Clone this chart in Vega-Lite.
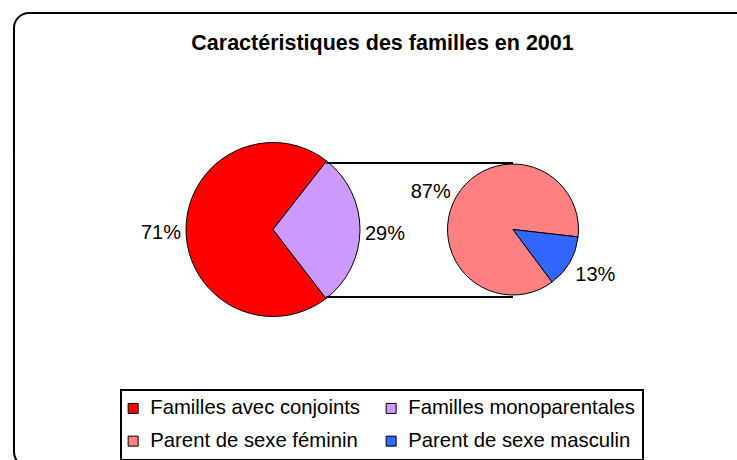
{
  "$schema": "https://vega.github.io/schema/vega-lite/v6.json",
  "usermeta": {"embedOptions": {"actions": false}},
  "width": 737,
  "height": 454,
  "autosize": {"type": "none"},
  "padding": {"left": 14, "top": 13, "right": -14, "bottom": -7},
  "background": "white",
  "title": {
    "text": "Caractéristiques des familles en 2001",
    "anchor": "middle",
    "offset": -41,
    "font": "Liberation Sans",
    "fontSize": 21.5,
    "fontWeight": "bold",
    "color": "black"
  },
  "datasets": {
    "parts": [
      {"camembert": "Ensemble des familles", "categorie": "Familles avec conjoints", "part": 0.71},
      {"camembert": "Ensemble des familles", "categorie": "Familles monoparentales", "part": 0.29},
      {"camembert": "Familles monoparentales", "categorie": "Parent de sexe féminin", "part": 0.87},
      {"camembert": "Familles monoparentales", "categorie": "Parent de sexe masculin", "part": 0.13}
    ],
    "liens": [
      {"de": "Ensemble des familles", "vers": "Familles monoparentales"}
    ]
  },
  "layer": [
    {
      "data": {"name": "parts"},
      "transform": [{"filter": "datum.camembert === 'Ensemble des familles'"}],
      "encoding": {
        "x": {"field": "camembert", "type": "nominal", "axis": null,
              "scale": {"type": "point", "domain": ["Ensemble des familles", "Familles monoparentales"], "range": [259, 499], "padding": 0}},
        "theta": {"field": "part", "type": "quantitative", "stack": true,
                  "scale": {"domain": [0, 1], "range": [0.664, 6.947]}},
        "order": {"field": "part", "sort": "ascending"}
      },
      "layer": [
        {
          "mark": {"type": "arc", "outerRadius": 87, "stroke": "black", "strokeWidth": 1, "yOffset": -10.5},
          "encoding": {
            "color": {"field": "categorie", "type": "nominal",
                      "scale": {"domain": ["Familles avec conjoints", "Familles monoparentales", "Parent de sexe féminin", "Parent de sexe masculin"],
                                "range": ["#FF0000", "#CC99FF", "#FF8080", "#3366FF"]},
                      "legend": {"title": null}}
          }
        },
        {
          "mark": {"type": "text", "radius": 112, "yOffset": -6.5, "font": "Liberation Sans", "fontSize": 20, "color": "black", "align": "center", "baseline": "middle"},
          "encoding": {
            "text": {"field": "part", "type": "quantitative", "format": ".0%"},
            "detail": {"field": "categorie", "type": "nominal"}
          }
        }
      ]
    },
    {
      "data": {"name": "parts"},
      "transform": [{"filter": "datum.camembert === 'Familles monoparentales'"}],
      "encoding": {
        "x": {"field": "camembert", "type": "nominal", "axis": null,
              "scale": {"type": "point", "domain": ["Ensemble des familles", "Familles monoparentales"], "range": [259, 499], "padding": 0}},
        "order": {"field": "part", "sort": "ascending"}
      },
      "layer": [
        {
          "mark": {"type": "arc", "outerRadius": 65.5, "stroke": "black", "strokeWidth": 1, "yOffset": -10.5},
          "encoding": {
            "theta": {"field": "part", "type": "quantitative", "stack": true,
                      "scale": {"domain": [0, 1], "range": [1.685, 7.968]}},
            "color": {"field": "categorie", "type": "nominal",
                      "scale": {"domain": ["Familles avec conjoints", "Familles monoparentales", "Parent de sexe féminin", "Parent de sexe masculin"],
                                "range": ["#FF0000", "#CC99FF", "#FF8080", "#3366FF"]},
                      "legend": {"title": null}}
          }
        },
        {
          "mark": {"type": "text", "radius": 92, "yOffset": -6.5, "font": "Liberation Sans", "fontSize": 20, "color": "black", "align": "center", "baseline": "middle"},
          "encoding": {
            "theta": {"field": "part", "type": "quantitative", "stack": true,
                      "scale": {"domain": [0, 1], "range": [1.625, 7.908]}},
            "text": {"field": "part", "type": "quantitative", "format": ".0%"},
            "detail": {"field": "categorie", "type": "nominal"}
          }
        }
      ],
      "resolve": {"scale": {"theta": "independent"}}
    },
    {
      "data": {"name": "liens"},
      "mark": {"type": "rule", "color": "black", "strokeWidth": 2, "xOffset": 53.3, "yOffset": -77},
      "encoding": {
        "x": {"field": "de", "type": "nominal", "axis": null,
              "scale": {"type": "point", "domain": ["Ensemble des familles", "Familles monoparentales"], "range": [259, 499], "padding": 0}},
        "x2": {"field": "vers"}
      }
    },
    {
      "data": {"name": "liens"},
      "mark": {"type": "rule", "color": "black", "strokeWidth": 2, "xOffset": 53.3, "yOffset": 57},
      "encoding": {
        "x": {"field": "de", "type": "nominal", "axis": null,
              "scale": {"type": "point", "domain": ["Ensemble des familles", "Familles monoparentales"], "range": [259, 499], "padding": 0}},
        "x2": {"field": "vers"}
      }
    }
  ],
  "resolve": {"scale": {"theta": "independent"}},
  "config": {
    "view": {"stroke": "black", "strokeWidth": 2, "cornerRadius": 15},
    "legend": {
      "orient": "none",
      "legendX": 107,
      "legendY": 377,
      "columns": 2,
      "direction": "horizontal",
      "strokeColor": "black",
      "strokeWidth": 2,
      "padding": 8,
      "symbolType": "square",
      "symbolSize": 100,
      "symbolOffset": -6,
      "symbolStrokeColor": "black",
      "symbolStrokeWidth": 1,
      "symbolOpacity": 1,
      "labelFont": "Liberation Sans",
      "labelFontSize": 20.3,
      "labelColor": "black",
      "labelOffset": 7,
      "labelLimit": 0,
      "columnPadding": 24,
      "rowPadding": 12
    }
  }
}
